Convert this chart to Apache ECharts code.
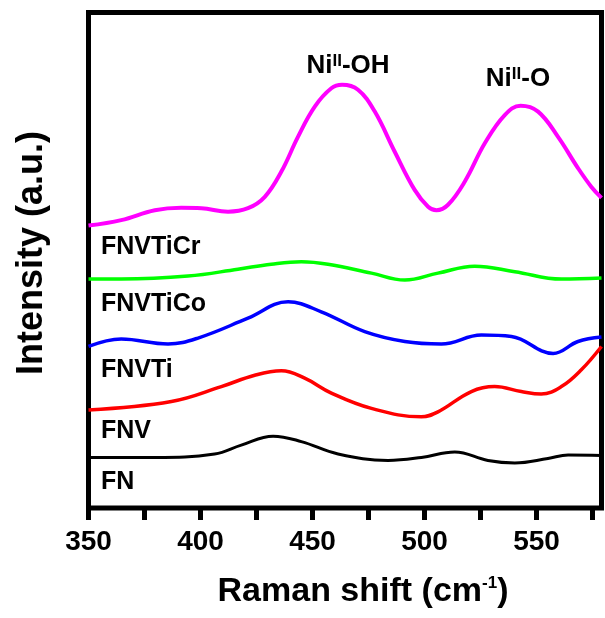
<!DOCTYPE html>
<html>
<head>
<meta charset="utf-8">
<script src="https://cdn.jsdelivr.net/npm/echarts@6/dist/echarts.min.js"></script>
<style>
  html, body { margin: 0; padding: 0; background: #fff; }
  #chart { width: 605px; height: 618px; }
</style>
</head>
<body>
<div id="chart"></div>
<script>
// Raman spectra, offset stacked. x = Raman shift (cm-1), y = intensity (a.u., offset)
const FONT = '"Liberation Sans", Arial, sans-serif';

const FN = [[350,10.2],[379.6,10.2],[406.3,10.9],[418.2,12.7],[432.4,14.5],[445,13.4],[461.4,10.9],
  [483.7,9.6],[498.6,10.2],[513.5,11.3],[528.3,9.6],[540.3,9.1],[555.1,10.0],[564.1,10.7],[579,10.6]];

const FNV = [[350,19.8],[387,21.5],[409.3,24.5],[424.2,26.8],[436.1,27.7],[446.5,26.2],[458.4,23.2],
  [476.3,20.1],[498.6,18.4],[506,19.4],[520.9,23.5],[531.3,24.5],[543.2,23.5],[552.1,23.0],
  [561.1,24.5],[570,27.9],[579,32.6]];

const FNVTi = [[350,32.6],[364.6,34.1],[385.5,33.1],[398.9,34.3],[421.2,38.3],[439.1,41.6],[453.9,39.6],
  [473.3,35.6],[491.2,33.6],[507.5,33.1],[525.4,34.9],[538.8,34.6],[557.4,31.2],[568.5,33.6],[579,34.5]];

const FNVTiCo = [[350,46.2],[364.6,46.2],[394.4,46.8],[416.7,48.2],[431.6,49.2],[445,49.7],[456.9,49.2],
  [476.3,47.4],[491.2,46.0],[506,47.4],[522.4,48.8],[540.3,47.7],[561.1,46.2],[579,46.4]];

const FNVTiCr = [[350,57.0],[364.6,58.1],[379.6,60.1],[391.4,60.6],[400.4,60.5],[412.3,59.8],[421.2,60.5],
  [428.7,62.8],[436.1,67.9],[443.5,74.9],[451,81.0],[458.4,84.7],[463.2,85.4],[470.3,84.4],[477.8,80.0],
  [486.7,71.9],[495.6,64.2],[501.6,60.8],[505.3,60.1],[510.5,61.2],[518,65.9],[526.9,73.6],[535.8,79.3],
  [542.9,81.2],[550.7,80.0],[559.6,74.9],[568.5,68.6],[574.5,64.8],[579,62.6]];

const tickValues = [350, 375, 400, 425, 450, 475, 500, 525, 550, 575];
const labelValues = [350, 400, 450, 500, 550];

const seriesList = [
  { name: 'FN', data: FN, color: '#000000', width: 3 },
  { name: 'FNV', data: FNV, color: '#ff0000', width: 3.5 },
  { name: 'FNVTi', data: FNVTi, color: '#0000ff', width: 3.5 },
  { name: 'FNVTiCo', data: FNVTiCo, color: '#00ff00', width: 3.5 },
  { name: 'FNVTiCr', data: FNVTiCr, color: '#ff00ff', width: 4 }
];

// sample names sit just under their curve, at the left edge
const sampleLabels = [
  { text: 'FNVTiCr', y: 247 },
  { text: 'FNVTiCo', y: 304 },
  { text: 'FNVTi', y: 370 },
  { text: 'FNV', y: 431 },
  { text: 'FN', y: 482 }
];

const chart = echarts.init(document.getElementById('chart'));

const supRich = (size, supSize) => ({
  b: { fontSize: size, fontWeight: 'bold', fontFamily: FONT },
  s: { fontSize: supSize, fontWeight: 'bold', fontFamily: FONT, verticalAlign: 'top' }
});

const boldText = (x, y, text, size, extra) => ({
  type: 'text', x, y, z: 100,
  ...extra,
  style: {
    text, fill: '#000', fontSize: size, fontWeight: 'bold', fontFamily: FONT,
    align: 'left', verticalAlign: 'middle',
    ...(extra && extra.textStyle)
  }
});

chart.setOption({
  backgroundColor: '#fff',
  animation: false,
  grid: {
    left: 88.5, right: 3.5, top: 12.5, bottom: 110,
    show: true, borderColor: '#000', borderWidth: 5, backgroundColor: 'transparent'
  },
  xAxis: {
    type: 'value', min: 350, max: 579,
    axisLine: { show: false },
    splitLine: { show: false },
    axisTick: { show: true, inside: false, length: 12, customValues: tickValues,
      lineStyle: { color: '#000', width: 5 } },
    axisLabel: { customValues: labelValues, color: '#000', fontSize: 28, fontWeight: 'bold',
      fontFamily: FONT, margin: 20 }
  },
  yAxis: { type: 'value', min: 0, max: 100, show: false },
  series: seriesList.map(s => ({
    name: s.name, type: 'line', data: s.data, showSymbol: false,
    smooth: 0.4,
    lineStyle: { color: s.color, width: s.width }
  })),
  graphic: [
    ...sampleLabels.map(l => boldText(101, l.y, l.text, 25)),
    boldText(348, 66, '{b|Ni}{s|II}{b|-OH}', 26, { textStyle: { align: 'center', rich: supRich(26, 17) } }),
    boldText(518, 79, '{b|Ni}{s|II}{b|-O}', 26, { textStyle: { align: 'center', rich: supRich(26, 17) } }),
    boldText(363, 592, '{b|Raman shift (cm}{s|-1}{b|)}', 34, { textStyle: { align: 'center', rich: supRich(34, 17) } }),
    boldText(32, 253, 'Intensity (a.u.)', 36, { rotation: Math.PI / 2, textStyle: { align: 'center' } })
  ]
});
</script>
</body>
</html>
